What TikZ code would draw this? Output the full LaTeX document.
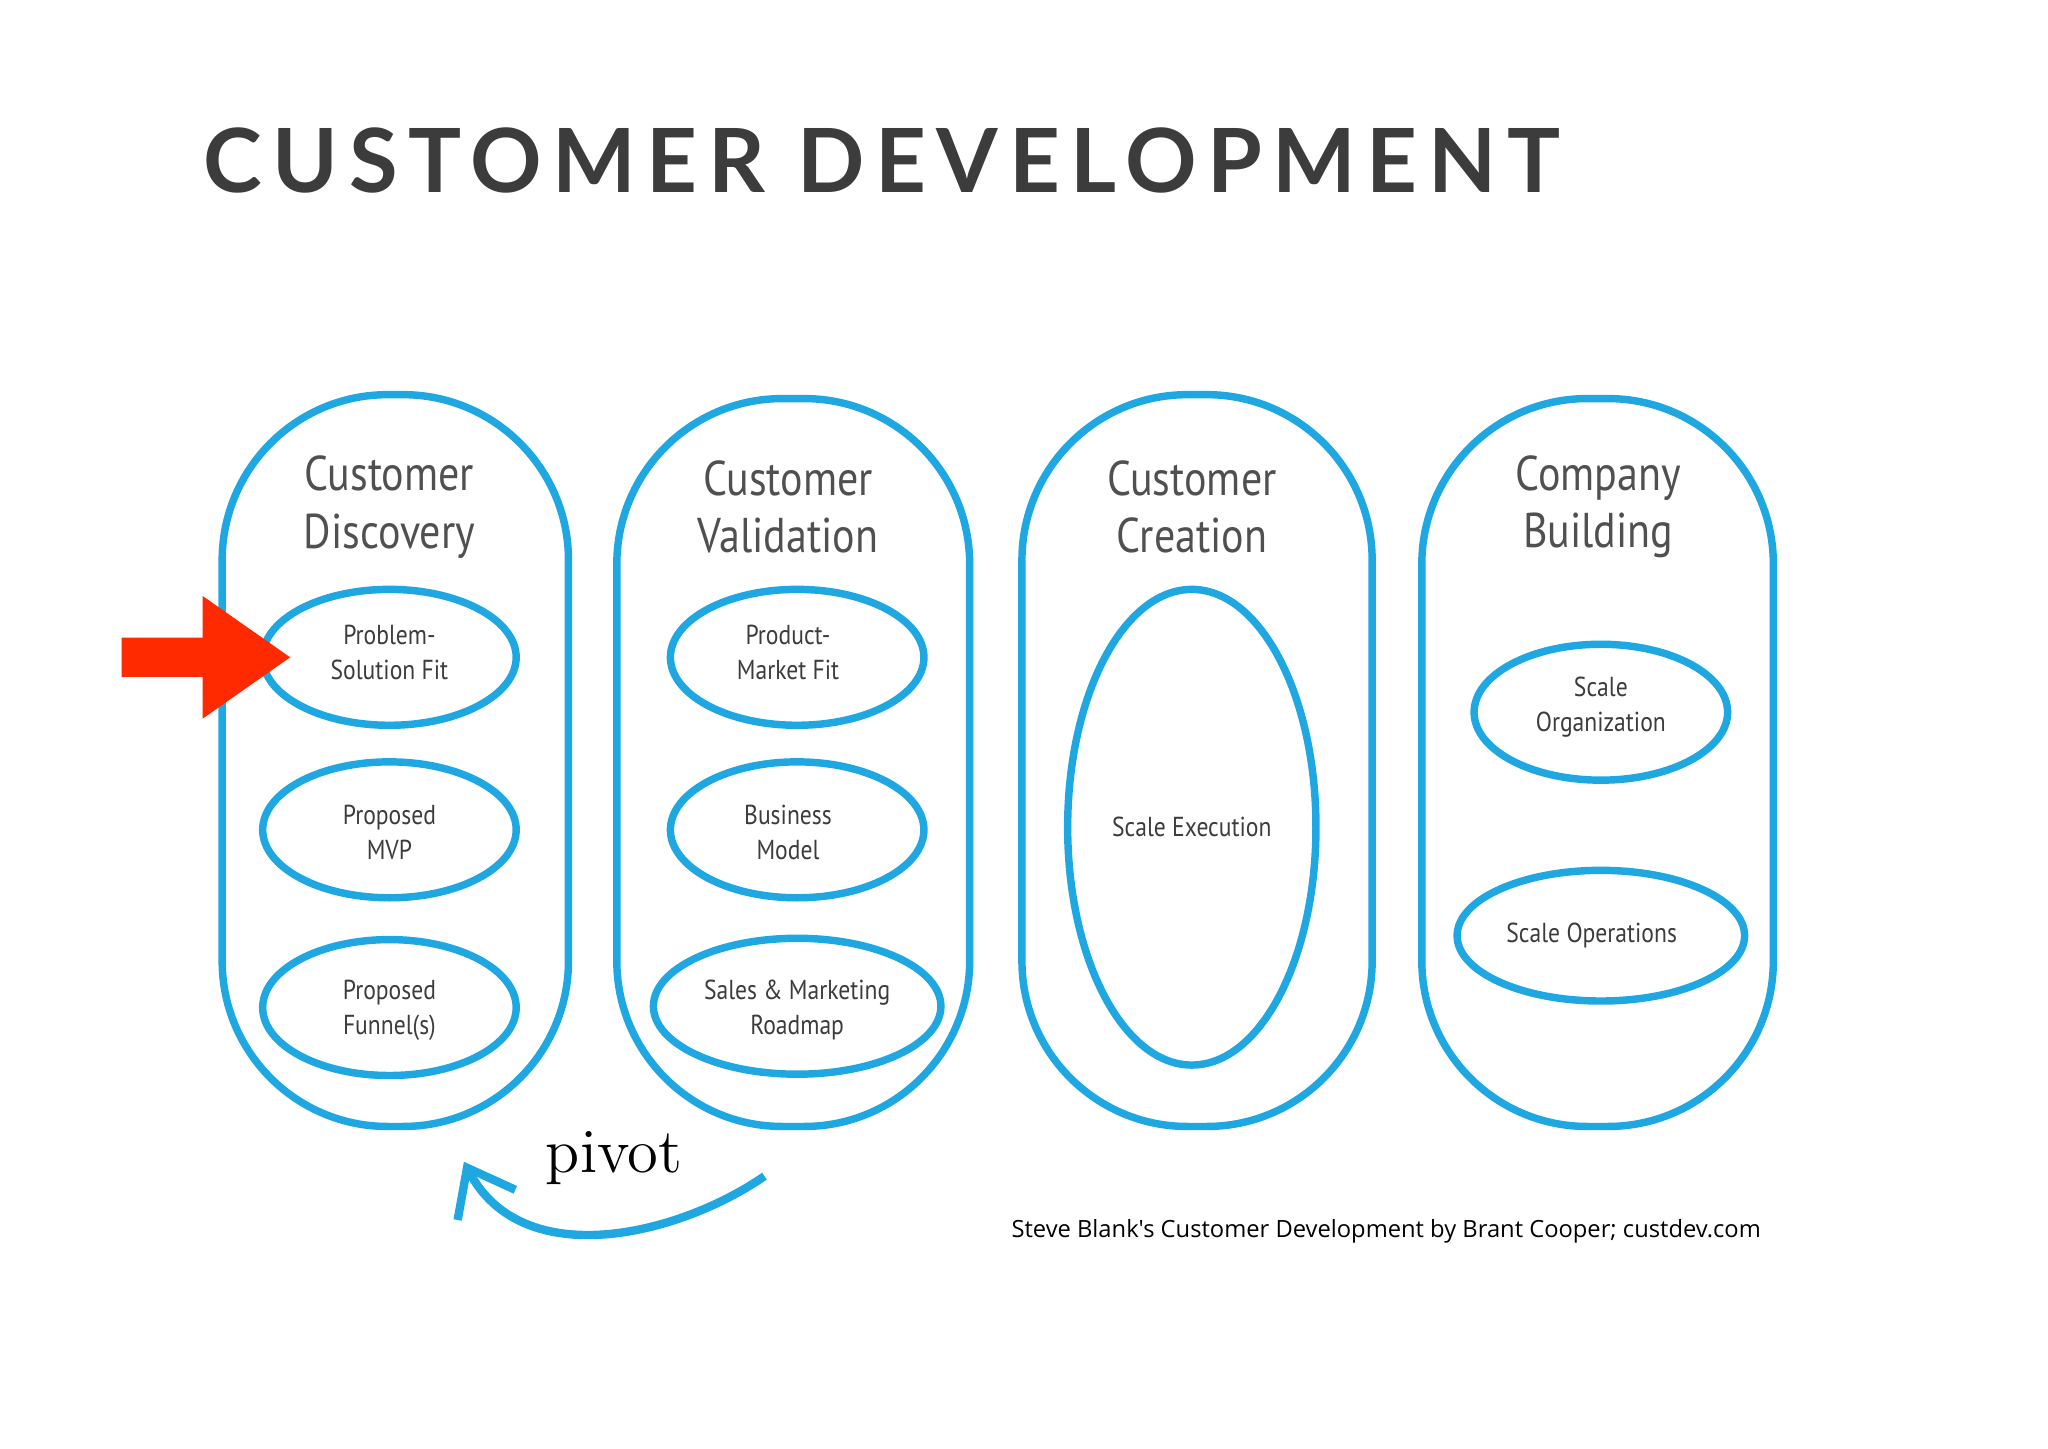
\documentclass[tikz,border=0pt]{standalone}
\usepackage{fontspec}
\setmainfont{PT Sans}
\newfontfamily\hdr[LetterSpace=12]{Lato}
\newfontfamily\cred{Open Sans}
\usetikzlibrary{arrows.meta}
\definecolor{cb}{HTML}{1EA7E1}
\definecolor{hd}{HTML}{3C3C3C}
\definecolor{ar}{HTML}{FF2A00}
\newcommand{\nrw}[1]{\scalebox{0.86}[1]{#1}}
\begin{document}
\begin{tikzpicture}[x=0.01cm,y=-0.01cm,
  pill/.style={draw=cb,line width=1.6pt,rounded corners=1.25cm},
  ov/.style={draw=cb,line width=1.6pt},
  ttl/.style={font=\fontsize{10.5}{12.3}\selectfont,text=hd!90,align=center},
  lbl/.style={font=\fontsize{5.9}{7.5}\selectfont,text=hd,align=center}]
\useasboundingbox (0,0) rectangle (1548,1094.5);
\begin{scope}[x=0.00987cm,y=-0.00987cm]
\node[font=\hdr\bfseries,text=hd,anchor=west,inner sep=0pt] (head) at (155,123) {\resizebox{10.25cm}{!}{CUSTOMER DEVELOPMENT}};
% pills
\draw[pill] (170,302) rectangle (435,862);
\draw[pill] (472,305) rectangle (742,862);
\draw[pill] (782,302) rectangle (1050,862);
\draw[pill] (1088,305) rectangle (1357,862);
\node[ttl] (t1) at (298,388) {\nrw{Customer}\\\nrw{Discovery}};
\node[ttl] (t2) at (603,388) {\nrw{Customer}\\\nrw{Validation}};
\node[ttl] (t3) at (912,388) {\nrw{Customer}\\\nrw{Creation}};
\node[ttl] (t4) at (1223,388) {\nrw{Company}\\\nrw{Building}};
% ovals
\draw[ov] (298,503) ellipse [x radius=97,y radius=52];
\draw[ov] (298,635) ellipse [x radius=97,y radius=52];
\draw[ov] (298,771) ellipse [x radius=97,y radius=52];
\draw[ov] (610,503) ellipse [x radius=97,y radius=52];
\draw[ov] (610,635) ellipse [x radius=97,y radius=52];
\draw[ov] (610,770) ellipse [x radius=110,y radius=52];
\draw[ov] (912,633) ellipse [x radius=95,y radius=182];
\draw[ov] (1225,545) ellipse [x radius=97,y radius=52];
\draw[ov] (1225,716) ellipse [x radius=110,y radius=50];
\node[lbl] (a1) at (298,499) {\nrw{Problem-}\\\nrw{Solution Fit}};
\node[lbl] (a2) at (298,637) {\nrw{Proposed}\\\nrw{MVP}};
\node[lbl] (a3) at (298,773) {\nrw{Proposed}\\\nrw{Funnel(s)}};
\node[lbl] (b1) at (603,499) {\nrw{Product-}\\\nrw{Market Fit}};
\node[lbl] (b2) at (603,637) {\nrw{Business}\\\nrw{Model}};
\node[lbl] (b3) at (610,773) {\nrw{Sales \& Marketing}\\\nrw{Roadmap}};
\node[lbl] (c1) at (912,633) {\nrw{Scale Execution}};
\node[lbl] (d1) at (1225,541) {\nrw{Scale}\\\nrw{Organization}};
\node[lbl] (d2) at (1218,716) {\nrw{Scale Operations}};
% red arrow
\fill[ar] (93,488) -- (155,488) -- (155,456) -- (222,503) -- (155,550) -- (155,518) -- (93,518) -- cycle;
% pivot
\node[font=\fontsize{13.5}{16}\selectfont,text=black] (pv) at (470,886) {\fontspec{Latin Modern Roman}pivot};
\coordinate (ps) at (585,900);
\coordinate (pe) at (355,889);
\draw[cb,line width=1.8pt,-{Straight Barb[length=9pt,width=14pt]}] (ps) .. controls (520,945) and (400,975) .. (pe);
\node[font=\cred\fontsize{5.1}{7}\selectfont,anchor=east] (cr) at (1360,942) {Steve Blank's Customer Development by Brant Cooper; custdev.com};
\end{scope}
\end{tikzpicture}
\end{document}
